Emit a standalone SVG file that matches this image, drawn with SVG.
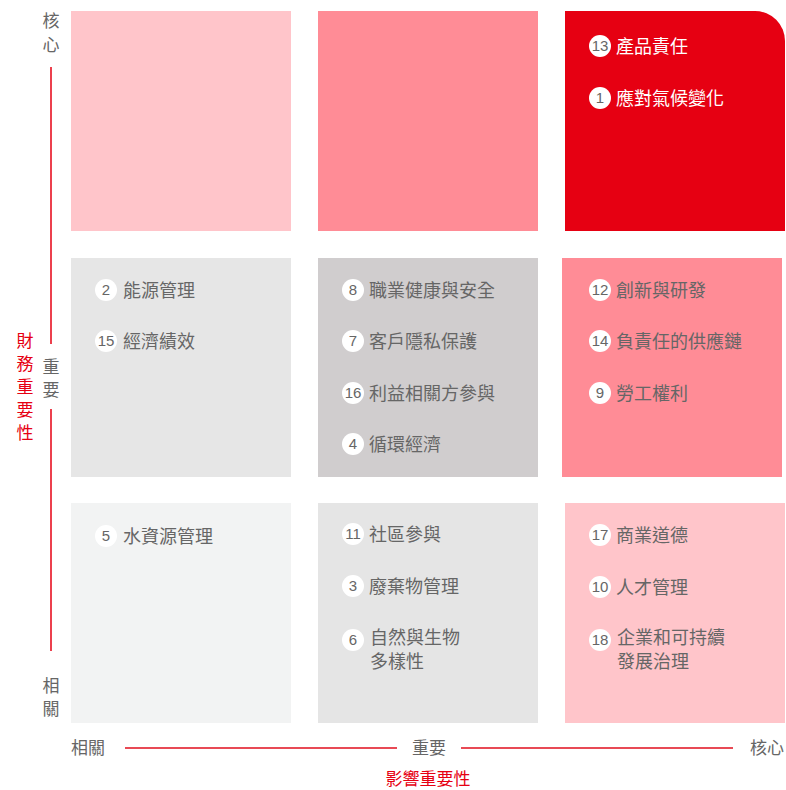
<svg xmlns="http://www.w3.org/2000/svg" width="786" height="790" viewBox="0 0 786 790">
<style>
.t{font-family:"Noto Sans CJK TC","Noto Sans CJK SC",sans-serif;font-size:18px;fill:#666666}
.w{fill:#ffffff}
.n{font-family:"Liberation Sans",Arial,sans-serif;font-size:15px;fill:#666666;text-anchor:middle}
.c{fill:#ffffff}
.ax{font-family:"Noto Sans CJK TC","Noto Sans CJK SC",sans-serif;font-size:17px;fill:#666666;text-anchor:middle}
.red{fill:#E60012}
</style>
<rect width="786" height="790" fill="#ffffff"/>
<g id="connectors">
<line x1="51" y1="67" x2="51" y2="344" stroke="#E60012" stroke-width="1.5"/>
<line x1="51" y1="409" x2="51" y2="651" stroke="#E60012" stroke-width="1.5"/>
<line x1="125" y1="748" x2="397" y2="748" stroke="#E84A55" stroke-width="2"/>
<line x1="461" y1="748" x2="733" y2="748" stroke="#E84A55" stroke-width="2"/>
</g>
<g id="axes">
<text class="ax" x="51" y="27">核</text>
<text class="ax" x="51" y="51">心</text>
<text class="ax" x="51" y="373">重</text>
<text class="ax" x="51" y="396">要</text>
<text class="ax" x="51" y="692">相</text>
<text class="ax" x="51" y="715">關</text>
<text class="ax red" x="25" y="347">財</text>
<text class="ax red" x="25" y="370">務</text>
<text class="ax red" x="25" y="393">重</text>
<text class="ax red" x="25" y="416">要</text>
<text class="ax red" x="25" y="439">性</text>
<text class="ax" x="88" y="754">相關</text>
<text class="ax" x="429" y="754">重要</text>
<text class="ax" x="767" y="754">核心</text>
<text class="ax red" x="428" y="785">影響重要性</text>
</g>
<g id="box-r1c1"><rect x="71" y="11" width="220" height="220" fill="#FFC5CA"/></g>
<g id="box-r1c2"><rect x="318" y="11" width="220" height="220" fill="#FF8C96"/></g>
<g id="box-r1c3">
<path d="M565 11 H755 A30 30 0 0 1 785 41 V231 H565 Z" fill="#E60012"/>
<circle class="c" cx="600" cy="46" r="11"/><text class="n" x="600" y="51">13</text><text class="t w" x="616" y="53">產品責任</text>
<circle class="c" cx="600" cy="98" r="11"/><text class="n" x="600" y="103">1</text><text class="t w" x="616" y="105">應對氣候變化</text>
</g>
<g id="box-r2c1">
<rect x="71" y="258" width="220" height="219" fill="#E6E6E6"/>
<circle class="c" cx="106" cy="290" r="11"/><text class="n" x="106" y="295">2</text><text class="t" x="123" y="297">能源管理</text>
<circle class="c" cx="106" cy="341" r="11"/><text class="n" x="106" y="346">15</text><text class="t" x="123" y="348">經濟績效</text>
</g>
<g id="box-r2c2">
<rect x="318" y="258" width="220" height="219" fill="#D0CDCE"/>
<circle class="c" cx="353" cy="290" r="11"/><text class="n" x="353" y="295">8</text><text class="t" x="369" y="297">職業健康與安全</text>
<circle class="c" cx="353" cy="341" r="11"/><text class="n" x="353" y="346">7</text><text class="t" x="369" y="348">客戶隱私保護</text>
<circle class="c" cx="353" cy="393" r="11"/><text class="n" x="353" y="398">16</text><text class="t" x="369" y="400">利益相關方參與</text>
<circle class="c" cx="353" cy="444" r="11"/><text class="n" x="353" y="449">4</text><text class="t" x="369" y="451">循環經濟</text>
</g>
<g id="box-r2c3">
<rect x="562" y="258" width="220" height="219" fill="#FF8C96"/>
<circle class="c" cx="600" cy="290" r="11"/><text class="n" x="600" y="295">12</text><text class="t" x="616" y="297">創新與研發</text>
<circle class="c" cx="600" cy="341" r="11"/><text class="n" x="600" y="346">14</text><text class="t" x="616" y="348">負責任的供應鏈</text>
<circle class="c" cx="600" cy="393" r="11"/><text class="n" x="600" y="398">9</text><text class="t" x="616" y="400">勞工權利</text>
</g>
<g id="box-r3c1">
<rect x="71" y="503" width="220" height="220" fill="#F2F3F3"/>
<circle class="c" cx="106" cy="536" r="11"/><text class="n" x="106" y="541">5</text><text class="t" x="123" y="543">水資源管理</text>
</g>
<g id="box-r3c2">
<rect x="318" y="503" width="220" height="220" fill="#E5E5E5"/>
<circle class="c" cx="353" cy="534" r="11"/><text class="n" x="353" y="539">11</text><text class="t" x="369" y="541">社區參與</text>
<circle class="c" cx="353" cy="586" r="11"/><text class="n" x="353" y="591">3</text><text class="t" x="369" y="593">廢棄物管理</text>
<circle class="c" cx="353" cy="640" r="11"/><text class="n" x="353" y="645">6</text><text class="t" x="370" y="644">自然與生物</text><text class="t" x="370" y="668">多樣性</text>
</g>
<g id="box-r3c3">
<rect x="565" y="503" width="220" height="220" fill="#FFC5CA"/>
<circle class="c" cx="600" cy="535" r="11"/><text class="n" x="600" y="540">17</text><text class="t" x="616" y="542">商業道德</text>
<circle class="c" cx="600" cy="587" r="11"/><text class="n" x="600" y="592">10</text><text class="t" x="616" y="594">人才管理</text>
<circle class="c" cx="600" cy="640" r="11"/><text class="n" x="600" y="645">18</text><text class="t" x="617" y="644">企業和可持續</text><text class="t" x="617" y="668">發展治理</text>
</g>
</svg>
